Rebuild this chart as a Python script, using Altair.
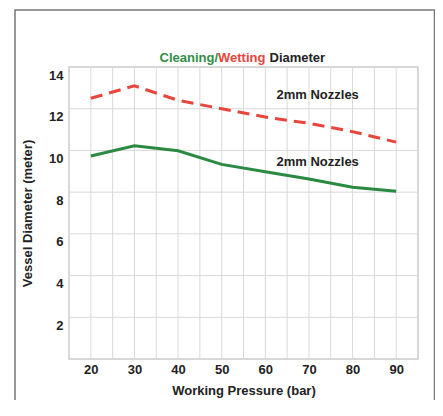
import altair as alt
import pandas as pd

pressure = [20, 30, 40, 50, 60, 70, 80, 90]
wetting = [12.5, 13.1, 12.4, 12.0, 11.6, 11.3, 10.9, 10.4]
cleaning = [9.73, 10.22, 9.98, 9.33, 8.98, 8.63, 8.23, 8.04]

notes = ["2mm Nozzles", "2mm Nozzles"]
note_x = [72, 72]
note_y = [12.68, 9.43]

title_parts = ["Cleaning/", "Wetting", "Diameter"]
title_colors = ["#2f8f48", "#e8453c", "#222222"]

df = pd.DataFrame({
    "pressure": pressure * 2,
    "value": wetting + cleaning,
    "series": ["Wetting"] * len(wetting) + ["Cleaning"] * len(cleaning),
})
notes_df = pd.DataFrame({"pressure": note_x, "value": note_y, "t": notes})
vg_df = pd.DataFrame({"pressure": list(range(20, 95, 5))})
hg_df = pd.DataFrame({"value": [2, 4, 6, 8, 10, 12]})

FONT = "Liberation Sans"
W, H = 349, 292

xs = alt.Scale(domain=[15, 95], nice=False, zero=False)
ys = alt.Scale(domain=[0, 14], nice=False)

xaxis = alt.Axis(values=[20, 30, 40, 50, 60, 70, 80, 90], title="Working Pressure (bar)",
                 grid=False, ticks=False, domain=False, labelFont=FONT, labelFontSize=13,
                 labelFontWeight="bold", labelColor="#222", labelPadding=4,
                 titleFont=FONT, titleFontSize=13, titleFontWeight="bold", titleColor="#222",
                 titlePadding=8)
yaxis = alt.Axis(values=[2, 4, 6, 8, 10, 12, 14], title="Vessel Diameter (meter)",
                 grid=False, ticks=False, domain=False, labelFont=FONT, labelFontSize=13,
                 labelFontWeight="bold", labelColor="#222", labelPadding=6, labelOffset=8,
                 titleFont=FONT, titleFontSize=13, titleFontWeight="bold", titleColor="#222",
                 titlePadding=14)

X = alt.X("pressure:Q", scale=xs, axis=xaxis)
Y = alt.Y("value:Q", scale=ys, axis=yaxis)

axes = alt.Chart(df).mark_point(opacity=0).encode(x=X, y=Y)

vgrid = alt.Chart(vg_df).mark_rule(color="#d9d9d9", strokeWidth=1).encode(x=X)
hgrid = alt.Chart(hg_df).mark_rule(color="#d9d9d9", strokeWidth=1).encode(y=Y)

wet = alt.Chart(df[df.series == "Wetting"]).mark_line(
    color="#e8453c", strokeWidth=3, strokeDash=[12, 7]).encode(x=X, y=Y)
cln = alt.Chart(df[df.series == "Cleaning"]).mark_line(
    color="#2a8a42", strokeWidth=3).encode(x=X, y=Y)

note_text = alt.Chart(notes_df).mark_text(
    font=FONT, fontSize=13, fontWeight="bold", color="#222", align="center", baseline="middle"
).encode(x=X, y=Y, text="t:N")

title_layers = []
title_x = [90.5, 149.0, 200.5]
for part, col, tx in zip(title_parts, title_colors, title_x):
    title_layers.append(
        alt.Chart(pd.DataFrame({"t": [part]})).mark_text(
            font=FONT, fontSize=13, fontWeight="bold", color=col, align="left",
            baseline="middle").encode(x=alt.value(tx), y=alt.value(-9.5), text="t:N"))

frame = alt.Chart(pd.DataFrame({"a": [0]})).mark_rect(
    fill=None, stroke="#777777", strokeWidth=1.5, clip=False).encode(
    x=alt.value(-54), x2=alt.value(365.5), y=alt.value(-57), y2=alt.value(700))

chart = alt.layer(axes, vgrid, hgrid, wet, cln, note_text, frame, *title_layers).properties(
    width=W, height=H,
    autosize=alt.AutoSizeParams(type="none"),
    padding={"left": 61, "top": 59, "right": 17, "bottom": 41},
    background="white",
).configure_view(stroke="#cccccc", strokeWidth=1.5)

chart.save("out.html", embed_options={"renderer": "svg", "actions": False})
